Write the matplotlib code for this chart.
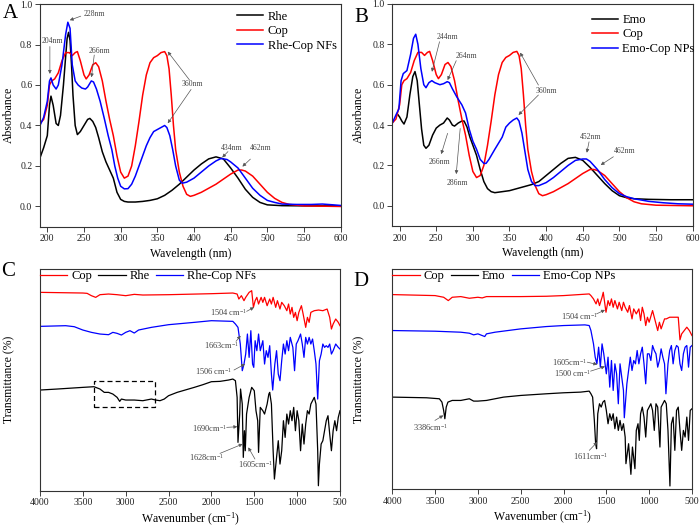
import matplotlib
matplotlib.use('Agg')
import matplotlib.pyplot as plt
from matplotlib.patches import Rectangle

plt.rcParams['font.family'] = ['Liberation Serif', 'DejaVu Serif']
plt.rcParams['mathtext.fontset'] = 'custom'
plt.rcParams['mathtext.rm'] = 'Liberation Serif'
plt.rcParams['mathtext.it'] = 'Liberation Serif:italic'
plt.rcParams['mathtext.bf'] = 'Liberation Serif:bold'

# ---------------- UV-Vis data ----------------
rhe_uv_wl = [190, 195, 200, 203, 205, 208, 212, 215, 218, 222, 225, 227, 229, 231, 233, 235, 238, 241, 245, 250, 255, 258,
             262, 266, 270, 275, 280, 285, 290, 295, 300, 305, 310, 320, 330, 340, 350, 360, 370, 380, 390, 400,
             410, 420, 430, 440, 450, 460, 470, 480, 490, 500, 520, 550, 600]
rhe_uv_abs = [0.24, 0.29, 0.35, 0.50, 0.545, 0.50, 0.41, 0.40, 0.45, 0.60, 0.74, 0.83, 0.86, 0.82, 0.70, 0.55, 0.40, 0.355, 0.37, 0.40, 0.43, 0.435,
              0.42, 0.39, 0.34, 0.27, 0.22, 0.18, 0.14, 0.07, 0.035, 0.025, 0.022, 0.022, 0.025, 0.03, 0.038, 0.055, 0.08, 0.11, 0.145, 0.18,
              0.21, 0.235, 0.245, 0.235, 0.19, 0.14, 0.085, 0.045, 0.02, 0.008, 0.004, 0.003, 0.003]

cop_uv_wl = [190, 195, 200, 203, 206, 210, 215, 220, 225, 230, 234, 238, 241, 245, 250, 253, 257, 262, 266, 270,
             275, 280, 285, 290, 295, 300, 305, 310, 315, 320, 325, 330, 335, 340, 345, 350, 355, 360, 363, 366,
             369, 372, 375, 380, 385, 390, 395, 400, 410, 420, 430, 440, 450, 460, 465, 470, 480, 490, 500, 510,
             520, 530, 550, 600]
cop_uv_abs = [0.41, 0.43, 0.50, 0.60, 0.62, 0.63, 0.66, 0.72, 0.76, 0.76, 0.745, 0.76, 0.765, 0.72, 0.65, 0.63, 0.65, 0.70, 0.71, 0.69,
              0.62, 0.52, 0.43, 0.35, 0.25, 0.17, 0.14, 0.15, 0.20, 0.30, 0.42, 0.55, 0.65, 0.71, 0.735, 0.745, 0.76, 0.765, 0.745, 0.68,
              0.55, 0.40, 0.28, 0.17, 0.10, 0.06, 0.05, 0.055, 0.07, 0.09, 0.11, 0.135, 0.16, 0.18, 0.18, 0.175, 0.15, 0.11, 0.07, 0.04,
              0.02, 0.01, 0.003, 0.0]

rhecop_uv_wl = [190, 195, 200, 203, 205, 208, 212, 215, 220, 225, 228, 231, 234, 238, 242, 247, 252, 255, 260, 263,
                267, 272, 278, 283, 288, 292, 296, 300, 305, 310, 315, 320, 325, 330, 335, 340, 345, 350, 355, 360,
                363, 367, 371, 375, 380, 384, 390, 400, 410, 420, 430, 437, 445, 450, 460, 470, 480, 490, 500, 510,
                520, 540, 560, 575, 590, 600]
rhecop_uv_abs = [0.40, 0.44, 0.52, 0.62, 0.635, 0.60, 0.58, 0.60, 0.70, 0.85, 0.91, 0.88, 0.70, 0.62, 0.60, 0.585, 0.58, 0.59, 0.62, 0.615,
                 0.58, 0.52, 0.43, 0.35, 0.28, 0.20, 0.14, 0.10, 0.087, 0.088, 0.11, 0.15, 0.20, 0.25, 0.30, 0.34, 0.37, 0.38, 0.39, 0.40,
                 0.39, 0.35, 0.28, 0.20, 0.13, 0.115, 0.12, 0.14, 0.17, 0.20, 0.225, 0.237, 0.232, 0.22, 0.19, 0.14, 0.09, 0.055, 0.03, 0.02,
                 0.012, 0.01, 0.01, 0.012, 0.008, 0.005]

emo_uv_wl = [198, 200, 203, 206, 210, 214, 218, 221, 224, 227, 230, 233, 236, 240, 245, 250, 255, 260, 265, 268,
             272, 275, 280, 285, 288, 292, 296, 300, 305, 310, 315, 320, 325, 330, 340, 350, 360, 370, 380, 390,
             400, 410, 420, 430, 440, 450, 460, 470, 480, 490, 500, 510, 520, 540, 570, 600]
emo_uv_abs = [0.45, 0.44, 0.42, 0.405, 0.44, 0.55, 0.64, 0.665, 0.62, 0.50, 0.38, 0.30, 0.285, 0.30, 0.35, 0.385, 0.40, 0.41, 0.435, 0.425,
              0.40, 0.395, 0.41, 0.42, 0.42, 0.39, 0.34, 0.30, 0.25, 0.18, 0.12, 0.085, 0.07, 0.065, 0.07, 0.075, 0.085, 0.095, 0.105, 0.12,
              0.15, 0.18, 0.21, 0.235, 0.24, 0.225, 0.19, 0.15, 0.11, 0.075, 0.05, 0.04, 0.035, 0.032, 0.03, 0.03]

emocop_uv_wl = [190, 195, 199, 202, 205, 210, 215, 219, 222, 225, 229, 233, 236, 240, 244, 248, 255, 260, 265, 268,
                272, 278, 285, 290, 295, 300, 305, 310, 315, 318, 322, 330, 340, 345, 350, 355, 360, 363, 367, 371,
                375, 380, 385, 390, 400, 410, 420, 430, 440, 450, 455, 460, 470, 480, 490, 500, 510, 520, 540, 560,
                580, 600]
emocop_uv_abs = [0.41, 0.45, 0.48, 0.62, 0.655, 0.67, 0.75, 0.83, 0.85, 0.80, 0.68, 0.60, 0.585, 0.61, 0.62, 0.61, 0.60, 0.605, 0.615, 0.61,
                 0.58, 0.54, 0.50, 0.46, 0.38, 0.32, 0.28, 0.23, 0.21, 0.21, 0.23, 0.28, 0.34, 0.39, 0.41, 0.425, 0.435, 0.42, 0.36, 0.27,
                 0.18, 0.12, 0.10, 0.10, 0.115, 0.14, 0.17, 0.20, 0.225, 0.232, 0.232, 0.22, 0.18, 0.13, 0.09, 0.06, 0.045, 0.035, 0.022, 0.015,
                 0.01, 0.008]

# ---------------- FT-IR data (transmittance, arbitrary offset units) ----------------
cop_ir_c_wn = [4000, 3500, 3450, 3400, 3350, 3300, 3200, 3100, 3000, 2900, 2800, 2500, 2000, 1750, 1700, 1680, 1650, 1620, 1600, 1560,
               1530, 1510, 1490, 1470, 1450, 1420, 1400, 1380, 1350, 1320, 1300, 1280, 1250, 1230, 1200, 1180, 1150, 1120, 1100, 1080,
               1060, 1040, 1020, 1000, 980, 950, 930, 900, 880, 860, 840, 800, 750, 700, 650, 620, 600, 580, 550, 520, 500]
cop_ir_c_t = [595, 593, 592, 585, 580, 588, 590, 588, 585, 589, 587, 588, 591, 593, 590, 575, 585, 570, 580, 595,
              600, 550, 570, 580, 560, 580, 565, 580, 555, 575, 560, 580, 550, 570, 545, 565, 555, 540, 560, 530,
              550, 520, 535, 510, 535, 555, 530, 490, 520, 505, 535, 540, 542, 540, 545, 520, 485, 500, 515, 505, 495]

rhecop_ir_wn = [4000, 3700, 3600, 3500, 3400, 3300, 3200, 3150, 3100, 3050, 3000, 2950, 2900, 2850, 2700, 2500, 2200, 2000, 1750, 1720,
                1690, 1663, 1640, 1620, 1600, 1580, 1560, 1540, 1520, 1506, 1490, 1470, 1450, 1430, 1400, 1380, 1360, 1340, 1320, 1300,
                1285, 1260, 1240, 1220, 1200, 1180, 1160, 1140, 1120, 1100, 1080, 1050, 1030, 1010, 990, 960, 940, 920, 900, 880,
                860, 840, 820, 800, 780, 760, 740, 720, 700, 680, 660, 640, 620, 600, 580, 550, 520, 500]
rhecop_ir_t = [493, 495, 492, 482, 475, 470, 468, 475, 472, 467, 475, 480, 473, 482, 490, 498, 505, 510, 508, 500,
               490, 440, 360, 380, 410, 470, 400, 480, 380, 370, 450, 420, 470, 420, 450, 380, 420, 400, 435, 350,
               302, 380, 420, 350, 330, 390, 440, 410, 450, 420, 460, 430, 360, 440, 450, 470, 440, 400, 460, 440,
               460, 440, 455, 420, 380, 275, 390, 410, 440, 430, 435, 430, 440, 410, 420, 440, 430, 425]

rhe_ir_wn = [4000, 3800, 3500, 3370, 3300, 3250, 3200, 3150, 3100, 3070, 3050, 3000, 2900, 2800, 2700, 2650, 2600, 2550, 2500, 2400,
             2200, 2100, 2000, 1900, 1800, 1750, 1720, 1700, 1690, 1670, 1660, 1640, 1628, 1615, 1605, 1590, 1560, 1530, 1500, 1480,
             1460, 1450, 1430, 1400, 1380, 1350, 1330, 1320, 1300, 1280, 1265, 1240, 1220, 1200, 1180, 1160, 1140, 1120, 1100, 1080,
             1060, 1040, 1020, 1000, 980, 960, 940, 920, 900, 880, 860, 840, 820, 800, 780, 760, 752, 740, 720, 700,
             680, 660, 640, 620, 600, 580, 560, 540, 520, 500]
rhe_ir_t = [302, 305, 310, 312, 305, 295, 295, 290, 280, 268, 275, 272, 272, 270, 275, 272, 270, 275, 285, 295,
            310, 318, 327, 328, 332, 335, 330, 280, 145, 230, 305, 260, 100, 180, 120, 230, 280, 310, 300, 240,
            210, 115, 250, 240, 230, 260, 290, 295, 260, 120, 35, 100, 150, 80, 120, 210, 160, 230, 200, 240,
            210, 250, 180, 240, 210, 120, 200, 140, 200, 240, 230, 260, 270, 280, 260, 120, 15, 80, 140, 150,
            180, 210, 225, 170, 120, 180, 210, 180, 220, 240]

cop_ir_d_wn = [4000, 3500, 3400, 3346, 3300, 3200, 3100, 3000, 2950, 2900, 2500, 2200, 2000, 1700, 1680, 1650, 1620, 1600, 1580, 1550,
               1536, 1504, 1480, 1460, 1440, 1420, 1400, 1370, 1350, 1320, 1300, 1280, 1250, 1230, 1200, 1180, 1150, 1120, 1100, 1080,
               1060, 1040, 1020, 1000, 960, 940, 900, 880, 860, 840, 820, 800, 760, 700, 660, 640, 620, 590, 560, 530, 500]
cop_ir_d_t = [588, 585, 580, 570, 580, 582, 577, 580, 578, 582, 582, 583, 585, 590, 585, 575, 560, 575, 555, 580,
              595, 535, 570, 555, 575, 550, 570, 545, 565, 540, 565, 550, 535, 555, 515, 545, 530, 545, 510, 550,
              530, 495, 520, 505, 540, 520, 480, 505, 485, 500, 515, 515, 520, 520, 520, 452, 470, 480, 490, 480, 465]

emocop_ir_wn = [4000, 3500, 3200, 3100, 3050, 3000, 2950, 2920, 2900, 2800, 2500, 2200, 2000, 1750, 1700, 1680, 1650, 1630, 1610, 1590,
                1570, 1550, 1530, 1500, 1480, 1460, 1440, 1420, 1400, 1380, 1360, 1340, 1320, 1300, 1290, 1260, 1240, 1220, 1200, 1180,
                1160, 1140, 1120, 1100, 1080, 1060, 1040, 1020, 1000, 980, 960, 940, 920, 900, 880, 860, 840, 820, 804, 780,
                760, 740, 720, 700, 680, 660, 640, 620, 600, 580, 560, 540, 520, 500]
emocop_ir_t = [480, 478, 475, 472, 467, 470, 465, 462, 470, 475, 485, 492, 495, 497, 495, 480, 440, 400, 380, 430,
               370, 440, 410, 350, 400, 310, 390, 300, 380, 350, 260, 380, 340, 300, 218, 320, 360, 400, 360, 390,
               380, 420, 380, 410, 430, 380, 320, 410, 410, 390, 435, 420, 410, 370, 390, 425, 400, 380, 290, 380,
               420, 435, 380, 420, 435, 430, 380, 360, 410, 430, 435, 370, 430, 435]

emo_ir_wn = [4000, 3600, 3450, 3420, 3400, 3386, 3370, 3350, 3300, 3200, 3100, 3050, 3000, 2900, 2700, 2500, 2200, 2000, 1800, 1700,
             1680, 1660, 1640, 1625, 1614, 1600, 1580, 1560, 1540, 1520, 1500, 1480, 1460, 1440, 1420, 1400, 1380, 1360, 1340, 1320,
             1300, 1280, 1271, 1240, 1213, 1195, 1166, 1150, 1130, 1115, 1100, 1080, 1060, 1040, 1020, 1000, 980, 960, 940, 920,
             900, 874, 860, 840, 820, 800, 780, 757, 740, 720, 700, 680, 660, 640, 620, 600, 580, 560, 540, 520, 500]
emo_ir_t = [280, 278, 275, 265, 240, 215, 250, 265, 270, 270, 275, 268, 268, 270, 280, 285, 290, 293, 295, 298,
            290, 280, 210, 140, 125, 230, 260, 250, 265, 270, 240, 200, 230, 210, 230, 185, 220, 180, 210, 180,
            200, 160, 80, 140, 48, 130, 65, 180, 200, 150, 230, 250, 220, 160, 240, 250, 260, 240, 180, 260,
            250, 130, 250, 260, 270, 260, 180, 13, 200, 220, 120, 240, 250, 180, 120, 180, 160, 220, 150, 240, 245]

BLACK, RED, BLUE = '#000000', '#ff0000', '#0000ff'
SPINE = '#333333'
ANN = '#444444'

fig = plt.figure(figsize=(7.0, 5.28), dpi=100)
axA = fig.add_axes([0.0571, 0.5706, 0.4296, 0.4218])
axB = fig.add_axes([0.5604, 0.5720, 0.4291, 0.4205])
axC = fig.add_axes([0.0571, 0.0706, 0.4286, 0.4199])
axD = fig.add_axes([0.5604, 0.0739, 0.4281, 0.4167])


def style(ax):
    for s in ax.spines.values():
        s.set_color(SPINE)
        s.set_linewidth(0.8)
    ax.tick_params(direction='out', length=3.5, width=0.6, labelsize=7, pad=2, colors='#222222')


def arrow(ax, tail, tip):
    ax.annotate('', xy=tip, xytext=tail,
                arrowprops=dict(arrowstyle='-|>', color='#555555', lw=0.5,
                                mutation_scale=5, shrinkA=0, shrinkB=0))


def label(ax, x, y, s, size=5.5):
    ax.text(x, y, s, fontsize=size, color=ANN, ha='center', va='center')


# ---------- Panel A ----------
ax = axA
style(ax)
ax.plot(rhe_uv_wl, rhe_uv_abs, color=BLACK, lw=1.1, label='Rhe')
ax.plot(cop_uv_wl, cop_uv_abs, color=RED, lw=1.1, label='Cop')
ax.plot(rhecop_uv_wl, rhecop_uv_abs, color=BLUE, lw=1.1, label='Rhe-Cop NFs')
ax.set_xlim(190, 600)
ax.set_ylim(-0.1, 1.0)
ax.set_xticks(range(200, 601, 50))
ax.set_yticks([0.0, 0.2, 0.4, 0.6, 0.8, 1.0])
ax.set_yticklabels(['0.0', '0.2', '0.4', '0.6', '0.8', '1.0'])
ax.set_xlabel('Wavelength (nm)', fontsize=8.5)
ax.set_ylabel('Absorbance', fontsize=8.5)
ax.xaxis.set_label_coords(0.5, -0.095)
ax.yaxis.set_label_coords(-0.083, 0.5)
ax.legend(loc='upper left', bbox_to_anchor=(0.655, 0.97), frameon=False, fontsize=9,
          handlelength=2.1, handletextpad=0.35, labelspacing=0.2, borderpad=0, borderaxespad=0)
label(ax, 207, 0.815, '204nm'); arrow(ax, (203.5, 0.79), (203.5, 0.655))
label(ax, 264, 0.95, '228nm'); arrow(ax, (245.6, 0.94), (230.6, 0.92))
label(ax, 271, 0.77, '266nm'); arrow(ax, (264, 0.748), (260.2, 0.638))
label(ax, 398, 0.605, '360nm'); arrow(ax, (393.8, 0.625), (364.2, 0.765)); arrow(ax, (396, 0.578), (364.2, 0.411))
label(ax, 451, 0.288, '434nm'); arrow(ax, (446.3, 0.271), (438.5, 0.242))
label(ax, 491, 0.288, '462nm'); arrow(ax, (476.9, 0.234), (466, 0.197))

# ---------- Panel B ----------
ax = axB
style(ax)
ax.plot(emo_uv_wl, emo_uv_abs, color=BLACK, lw=1.1, label='Emo')
ax.plot(cop_uv_wl, cop_uv_abs, color=RED, lw=1.1, label='Cop')
ax.plot(emocop_uv_wl, emocop_uv_abs, color=BLUE, lw=1.1, label='Emo-Cop NPs')
ax.set_xlim(190, 600)
ax.set_ylim(-0.1, 1.0)
ax.set_xticks(range(200, 601, 50))
ax.set_yticks([0.0, 0.2, 0.4, 0.6, 0.8, 1.0])
ax.set_yticklabels(['0.0', '0.2', '0.4', '0.6', '0.8', '1.0'])
ax.set_xlabel('Wavelength (nm)', fontsize=8.5)
ax.set_ylabel('Absorbance', fontsize=8.5)
ax.xaxis.set_label_coords(0.5, -0.095)
ax.yaxis.set_label_coords(-0.09, 0.5)
ax.legend(loc='upper left', bbox_to_anchor=(0.664, 0.955), frameon=False, fontsize=9,
          handlelength=2.1, handletextpad=0.35, labelspacing=0.2, borderpad=0, borderaxespad=0)
label(ax, 265, 0.835, '244nm'); arrow(ax, (254.5, 0.813), (244.1, 0.664))
label(ax, 291, 0.742, '264nm'); arrow(ax, (277.3, 0.719), (265.5, 0.623))
label(ax, 400, 0.57, '360nm'); arrow(ax, (389.5, 0.598), (364.5, 0.759)); arrow(ax, (389.5, 0.549), (362.3, 0.45))
label(ax, 254.5, 0.218, '266nm'); arrow(ax, (265.5, 0.359), (256.8, 0.256))
label(ax, 279, 0.114, '286nm'); arrow(ax, (282.7, 0.383), (277.3, 0.157))
label(ax, 461, 0.342, '452nm'); arrow(ax, (458.6, 0.317), (455.5, 0.263))
label(ax, 507.7, 0.273, '462nm'); arrow(ax, (491.8, 0.243), (474.5, 0.202))

# ---------- Panel C ----------
ax = axC
style(ax)
ax.plot(cop_ir_c_wn, cop_ir_c_t, color=RED, lw=0.9, label='Cop')
ax.plot(rhe_ir_wn, rhe_ir_t, color=BLACK, lw=0.9, label='Rhe')
ax.plot(rhecop_ir_wn, rhecop_ir_t, color=BLUE, lw=0.9, label='Rhe-Cop NFs')
ax.set_xlim(4000, 500)
ax.set_ylim(0, 665)
ax.set_xticks(range(4000, 499, -500))
ax.set_yticks([])
ax.set_xlabel('Wavenumber (cm$^{-1}$)', fontsize=8.5)
ax.set_ylabel('Transmittance (%)', fontsize=8.5)
ax.xaxis.set_label_coords(0.5, -0.09)
ax.yaxis.set_label_coords(-0.083, 0.5)
ax.legend(loc='upper left', bbox_to_anchor=(0.0, 0.995), ncol=3, frameon=False, fontsize=9,
          handlelength=2.2, handletextpad=0.3, columnspacing=0.5, borderpad=0, borderaxespad=0)
ax.add_patch(Rectangle((3366, 252), 2658 - 3366, 328 - 252, fill=False, ls=(0, (4, 2.5)), lw=0.9, ec=BLACK))
label(ax, 1803, 535, '1504 cm$^{-1}$', 6); arrow(ax, (1589, 538), (1503, 550))
label(ax, 1880, 435, '1663cm$^{-1}$', 6); arrow(ax, (1713, 448), (1659, 465))
label(ax, 1978, 357, '1506 cm$^{-1}$', 6); arrow(ax, (1737, 362), (1608, 380))
label(ax, 2028, 187, '1690cm$^{-1}$', 6); arrow(ax, (1822, 190), (1698, 192))
label(ax, 2055, 100, '1628cm$^{-1}$', 6); arrow(ax, (1900, 112), (1636, 140))
label(ax, 1492, 80, '1605cm$^{-1}$', 6); arrow(ax, (1492, 95), (1570, 130))

# ---------- Panel D ----------
ax = axD
style(ax)
ax.plot(cop_ir_d_wn, cop_ir_d_t, color=RED, lw=0.9, label='Cop')
ax.plot(emo_ir_wn, emo_ir_t, color=BLACK, lw=0.9, label='Emo')
ax.plot(emocop_ir_wn, emocop_ir_t, color=BLUE, lw=0.9, label='Emo-Cop NPs')
ax.set_xlim(4000, 500)
ax.set_ylim(4, 665)
ax.set_xticks(range(4000, 499, -500))
ax.set_yticks([])
ax.set_xlabel('Wavenumber (cm$^{-1}$)', fontsize=8.5)
ax.set_ylabel('Transmittance (%)', fontsize=8.5)
ax.xaxis.set_label_coords(0.5, -0.09)
ax.yaxis.set_label_coords(-0.09, 0.5)
ax.legend(loc='upper left', bbox_to_anchor=(0.0, 0.995), ncol=3, frameon=False, fontsize=9,
          handlelength=2.2, handletextpad=0.3, columnspacing=0.5, borderpad=0, borderaxespad=0)
label(ax, 1808, 522, '1504 cm$^{-1}$', 6); arrow(ax, (1614, 530), (1516, 542))
label(ax, 1925, 385, '1605cm$^{-1}$', 6); arrow(ax, (1723, 385), (1606, 378))
label(ax, 1894, 350, '1500 cm$^{-1}$', 6); arrow(ax, (1684, 358), (1516, 372))
label(ax, 3560, 188, '3386cm$^{-1}$', 6); arrow(ax, (3502, 210), (3404, 225))
label(ax, 1691, 102, '1611cm$^{-1}$', 6); arrow(ax, (1699, 120), (1606, 145))

# ---------- Panel letters ----------
fig.text(10 / 700, 1 - 14 / 528, 'A', fontsize=15, ha='center', va='center')
fig.text(361 / 700, 1 - 18 / 528, 'B', fontsize=15, ha='center', va='center')
fig.text(8 / 700, 1 - 272 / 528, 'C', fontsize=15, ha='center', va='center')
fig.text(361 / 700, 1 - 281 / 528, 'D', fontsize=15, ha='center', va='center')

fig.savefig('out.png', dpi=100, facecolor='white')
